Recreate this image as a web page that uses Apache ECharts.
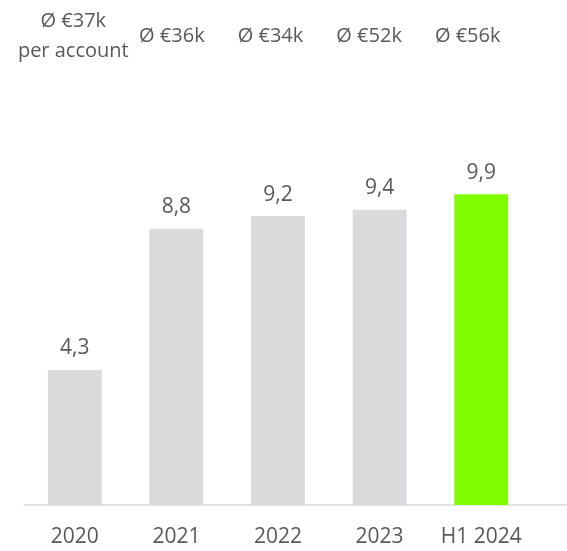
<!DOCTYPE html>
<html>
<head>
    <meta charset="utf-8">
    <title>Average per account</title>
    <script src="https://cdn.jsdelivr.net/npm/echarts@6/dist/echarts.min.js"></script>
    <style>
        html, body { margin: 0; padding: 0; background: #fff; }
        #main { width: 567px; height: 551px; }
    </style>
</head>
<body>
<div id="main"></div>
<script type="text/javascript">
    // data
    var periods = ['2020', '2021', '2022', '2023', 'H1 2024'];
    var values = [4.3, 8.8, 9.2, 9.4, 9.9];
    var avgLabels = ['Ø €37k\nper account', 'Ø €36k', 'Ø €34k', 'Ø €52k', 'Ø €56k'];

    var grey = '#d9dadc';
    var green = '#80ff00';
    var textColor = '#595959';
    var font = '"Open Sans", sans-serif';

    var myChart = echarts.init(document.getElementById('main'), null, { renderer: 'canvas' });

    var option = {
        animation: false,
        grid: [
            { left: 24, right: 35, top: 191, bottom: 46 },
            // thin strip on top, only for the average labels
            { left: 24, right: 50, top: 60, height: 1 }
        ],
        xAxis: [{
            type: 'category',
            gridIndex: 0,
            data: periods,
            axisLine: { lineStyle: { color: '#d9d9d9', width: 1.5 } },
            axisTick: { show: false },
            axisLabel: { color: textColor, fontSize: 21, fontFamily: font, margin: 22, interval: 0 }
        }, {
            type: 'category',
            gridIndex: 1,
            position: 'top',
            data: avgLabels,
            axisLine: { show: false },
            axisTick: { show: false },
            axisLabel: {
                color: textColor, fontSize: 20, fontFamily: font, margin: 24,
                interval: 0, hideOverlap: false,
                verticalAlign: 'middle', lineHeight: 30, align: 'center'
            }
        }],
        yAxis: [{
            type: 'value', gridIndex: 0, min: 0, max: 10, show: false
        }, {
            type: 'value', gridIndex: 1, show: false
        }],
        series: [{
            type: 'bar',
            xAxisIndex: 0,
            yAxisIndex: 0,
            barWidth: '53%',
            data: values.map(function (v, i) {
                return { value: v, itemStyle: { color: i === values.length - 1 ? green : grey } };
            }),
            label: {
                show: true,
                position: 'top',
                distance: 11,
                color: textColor,
                fontSize: 21,
                fontFamily: font,
                formatter: function (p) { return p.value.toFixed(1).replace('.', ','); }
            }
        }]
    };

    myChart.setOption(option);

    // baseline runs on to the right edge of the picture
    var base = myChart.convertToPixel({ gridIndex: 0 }, [periods.length - 0.5, 0]);
    myChart.setOption({
        graphic: [{
            type: 'line',
            shape: { x1: 532, y1: base[1], x2: 567, y2: base[1] },
            style: { stroke: '#d9d9d9', lineWidth: 1.5 }
        }]
    });
</script>
</body>
</html>
